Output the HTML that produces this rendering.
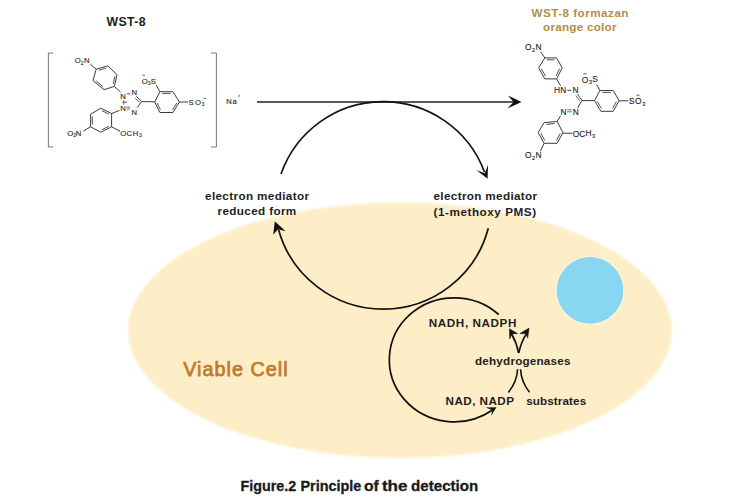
<!DOCTYPE html>
<html><head><meta charset="utf-8">
<style>
html,body{margin:0;padding:0;background:#fff;width:750px;height:500px;overflow:hidden}
svg{display:block}
text{font-family:"Liberation Sans",sans-serif}
.lbl{font-size:11.7px;font-weight:bold;fill:#1e1e1e}
.ch{font-family:"Liberation Sans",sans-serif;fill:#1e1e1e;stroke:#1e1e1e;stroke-width:0.12px}
</style></head><body>
<svg width="750" height="500" viewBox="0 0 750 500">
<!-- cell -->
<defs><filter id="bl" x="-5%" y="-5%" width="110%" height="110%"><feGaussianBlur stdDeviation="1.1"/></filter></defs>
<ellipse cx="400" cy="330.3" rx="271.7" ry="127.8" fill="#feeec7" filter="url(#bl)"/>
<circle cx="590" cy="290.4" r="34.4" fill="#eef7e6"/>
<circle cx="590" cy="290.4" r="32.8" fill="#88d6f2" stroke="#7fcbe8" stroke-width="0.8"/>

<!-- chem -->
<path d="M53.50 53.00 L48.40 53.00 L48.40 147.00 L53.50 147.00" fill="none" stroke="#6a6a6a" stroke-width="0.9"/>
<path d="M211.00 53.00 L216.40 53.00 L216.40 147.00 L211.00 147.00" fill="none" stroke="#6a6a6a" stroke-width="0.9"/>
<text x="74.84" y="63.42" class="ch" style="font-size:7.7px">O</text>
<text x="80.65" y="64.60" class="ch" style="font-size:5.0px">2</text>
<text x="83.97" y="63.00" class="ch" style="font-size:7.7px">N</text>
<path d="M90.40 64.20 L96.20 69.20" fill="none" stroke="#3c3c3c" stroke-width="1.0"/>
<path d="M96.20 69.20 L107.90 65.90 L117.00 74.70 L114.40 86.40 L104.00 89.70 L93.00 80.60 Z" fill="none" stroke="#3c3c3c" stroke-width="1.0" stroke-linejoin="round"/>
<path d="M98.84 70.22 L106.33 68.11" fill="none" stroke="#3c3c3c" stroke-width="0.9"/>
<path d="M114.89 76.36 L113.23 83.85" fill="none" stroke="#3c3c3c" stroke-width="0.9"/>
<path d="M103.18 86.82 L96.14 81.00" fill="none" stroke="#3c3c3c" stroke-width="0.9"/>
<path d="M114.40 86.40 L120.60 92.20" fill="none" stroke="#3c3c3c" stroke-width="1.0"/>
<text x="120.37" y="98.60" class="ch" style="font-size:7.7px">N</text>
<text x="131.47" y="95.30" class="ch" style="font-size:7.7px">N</text>
<path d="M126.70 93.80 L130.40 93.80" fill="none" stroke="#2e2e2e" stroke-width="0.8"/>
<path d="M136.30 96.40 L141.60 101.30" fill="none" stroke="#3c3c3c" stroke-width="1.0"/>
<path d="M135.20 98.20 L139.60 102.20" fill="none" stroke="#3c3c3c" stroke-width="0.8"/>
<path d="M141.40 101.80 L137.20 107.60" fill="none" stroke="#3c3c3c" stroke-width="1.0"/>
<text x="131.47" y="114.50" class="ch" style="font-size:7.7px">N</text>
<text x="120.37" y="110.90" class="ch" style="font-size:7.7px">N</text>
<path d="M126.40 107.20 L130.20 107.20" fill="none" stroke="#2e2e2e" stroke-width="0.7"/>
<path d="M126.80 109.00 L130.20 109.00" fill="none" stroke="#2e2e2e" stroke-width="0.7"/>
<path d="M122.20 102.20 L127.20 102.20" fill="none" stroke="#2e2e2e" stroke-width="0.8"/>
<path d="M123.80 100.00 L123.80 104.60" fill="none" stroke="#2e2e2e" stroke-width="0.6"/>
<path d="M141.40 101.60 L154.70 101.80" fill="none" stroke="#3c3c3c" stroke-width="1.0"/>
<path d="M154.70 102.00 L159.90 91.70 L172.90 91.70 L179.40 102.00 L172.90 112.50 L159.90 112.50 Z" fill="none" stroke="#3c3c3c" stroke-width="1.0" stroke-linejoin="round"/>
<path d="M162.28 93.40 L170.60 93.40" fill="none" stroke="#3c3c3c" stroke-width="0.9"/>
<path d="M176.74 103.08 L172.58 109.80" fill="none" stroke="#3c3c3c" stroke-width="0.9"/>
<path d="M160.45 109.78 L157.12 103.06" fill="none" stroke="#3c3c3c" stroke-width="0.9"/>
<path d="M159.90 91.70 L156.20 85.00" fill="none" stroke="#3c3c3c" stroke-width="1.0"/>
<text x="141.64" y="83.52" class="ch" style="font-size:7.7px">O</text>
<text x="147.71" y="85.05" class="ch" style="font-size:5.0px">3</text>
<text x="150.75" y="83.52" class="ch" style="font-size:7.7px">S</text>
<path d="M142.20 75.20 L145.00 75.20" fill="none" stroke="#2e2e2e" stroke-width="0.7"/>
<path d="M179.40 102.00 L188.00 102.00" fill="none" stroke="#3c3c3c" stroke-width="1.0"/>
<text x="188.45" y="104.92" class="ch" style="font-size:7.7px">S</text>
<text x="194.94" y="104.92" class="ch" style="font-size:7.7px">O</text>
<text x="201.61" y="106.45" class="ch" style="font-size:5.0px">3</text>
<path d="M203.60 98.40 L206.20 98.40" fill="none" stroke="#2e2e2e" stroke-width="0.7"/>
<path d="M119.40 110.40 L111.60 113.60" fill="none" stroke="#3c3c3c" stroke-width="1.0"/>
<path d="M111.60 113.60 L100.80 108.20 L90.60 114.20 L90.60 126.80 L100.80 132.20 L111.60 126.80 Z" fill="none" stroke="#3c3c3c" stroke-width="1.0" stroke-linejoin="round"/>
<path d="M108.83 114.12 L101.92 110.66" fill="none" stroke="#3c3c3c" stroke-width="0.9"/>
<path d="M92.30 116.44 L92.30 124.50" fill="none" stroke="#3c3c3c" stroke-width="0.9"/>
<path d="M101.91 129.75 L108.82 126.29" fill="none" stroke="#3c3c3c" stroke-width="0.9"/>
<path d="M90.60 126.80 L83.40 131.00" fill="none" stroke="#3c3c3c" stroke-width="1.0"/>
<text x="67.14" y="136.02" class="ch" style="font-size:7.7px">O</text>
<text x="73.25" y="137.30" class="ch" style="font-size:5.0px">2</text>
<text x="75.87" y="135.90" class="ch" style="font-size:7.7px">N</text>
<path d="M111.60 126.80 L120.00 131.20" fill="none" stroke="#3c3c3c" stroke-width="1.0"/>
<text x="120.34" y="135.82" class="ch" style="font-size:7.7px">O</text>
<text x="126.61" y="135.82" class="ch" style="font-size:7.7px">C</text>
<text x="132.67" y="135.70" class="ch" style="font-size:7.7px">H</text>
<text x="138.91" y="137.45" class="ch" style="font-size:5.0px">3</text>
<text x="226.28" y="103.80" class="ch" style="font-size:7.6px">N</text>
<text x="232.58" y="103.73" class="ch" style="font-size:7.6px">a</text>
<path d="M238.30 95.90 L239.90 95.90" fill="none" stroke="#555" stroke-width="0.6"/>
<path d="M239.10 94.60 L239.10 97.20" fill="none" stroke="#555" stroke-width="0.6"/>
<text x="524.90" y="50.32" class="ch" style="font-size:8.4px">O</text>
<text x="532.03" y="52.40" class="ch" style="font-size:5.4px">2</text>
<text x="535.41" y="50.00" class="ch" style="font-size:8.4px">N</text>
<path d="M540.50 51.60 L544.80 57.90" fill="none" stroke="#3c3c3c" stroke-width="1.0"/>
<path d="M544.80 57.90 L556.60 57.90 L562.20 67.80 L556.60 78.90 L544.80 78.90 L538.60 67.80 Z" fill="none" stroke="#3c3c3c" stroke-width="1.0" stroke-linejoin="round"/>
<path d="M546.91 59.80 L554.46 59.80" fill="none" stroke="#3c3c3c" stroke-width="0.9"/>
<path d="M559.55 68.84 L555.97 75.94" fill="none" stroke="#3c3c3c" stroke-width="0.9"/>
<path d="M545.33 75.95 L541.36 68.85" fill="none" stroke="#3c3c3c" stroke-width="0.9"/>
<path d="M556.60 78.90 L560.60 85.80" fill="none" stroke="#3c3c3c" stroke-width="1.0"/>
<text x="553.91" y="93.00" class="ch" style="font-size:8.4px">H</text>
<text x="560.31" y="93.00" class="ch" style="font-size:8.4px">N</text>
<path d="M567.30 90.30 L571.30 90.30" fill="none" stroke="#2e2e2e" stroke-width="0.9"/>
<text x="572.61" y="93.00" class="ch" style="font-size:8.4px">N</text>
<path d="M577.40 94.20 L582.00 100.40" fill="none" stroke="#3c3c3c" stroke-width="1.0"/>
<path d="M575.80 95.60 L579.80 100.80" fill="none" stroke="#3c3c3c" stroke-width="0.8"/>
<path d="M581.70 100.60 L594.50 100.60" fill="none" stroke="#3c3c3c" stroke-width="1.0"/>
<text x="581.70" y="82.62" class="ch" style="font-size:8.4px">O</text>
<text x="588.89" y="84.35" class="ch" style="font-size:5.4px">3</text>
<text x="592.32" y="82.42" class="ch" style="font-size:8.4px">S</text>
<path d="M583.40 73.80 L586.60 73.80" fill="none" stroke="#2e2e2e" stroke-width="0.8"/>
<path d="M594.50 100.60 L599.90 90.50 L613.20 90.50 L619.10 100.60 L613.20 111.30 L600.90 111.30 Z" fill="none" stroke="#3c3c3c" stroke-width="1.0" stroke-linejoin="round"/>
<path d="M602.34 92.40 L610.85 92.40" fill="none" stroke="#3c3c3c" stroke-width="0.9"/>
<path d="M616.37 101.61 L612.60 108.46" fill="none" stroke="#3c3c3c" stroke-width="0.9"/>
<path d="M601.40 108.44 L597.31 101.59" fill="none" stroke="#3c3c3c" stroke-width="0.9"/>
<path d="M599.90 90.50 L596.70 84.60" fill="none" stroke="#3c3c3c" stroke-width="1.0"/>
<path d="M619.10 100.80 L628.20 100.80" fill="none" stroke="#3c3c3c" stroke-width="1.0"/>
<text x="629.12" y="104.22" class="ch" style="font-size:8.4px">S</text>
<text x="635.10" y="104.22" class="ch" style="font-size:8.4px">O</text>
<text x="642.29" y="105.65" class="ch" style="font-size:5.4px">3</text>
<path d="M636.40 95.20 L639.60 95.20" fill="none" stroke="#2e2e2e" stroke-width="0.8"/>
<path d="M581.70 100.80 L577.60 108.20" fill="none" stroke="#3c3c3c" stroke-width="1.0"/>
<text x="560.51" y="114.90" class="ch" style="font-size:8.4px">N</text>
<text x="572.81" y="114.90" class="ch" style="font-size:8.4px">N</text>
<path d="M567.20 109.80 L571.70 109.80" fill="none" stroke="#2e2e2e" stroke-width="0.7"/>
<path d="M567.20 111.80 L571.70 111.80" fill="none" stroke="#2e2e2e" stroke-width="0.7"/>
<path d="M560.60 115.80 L557.10 121.50" fill="none" stroke="#3c3c3c" stroke-width="1.0"/>
<path d="M557.10 121.50 L544.10 122.60 L538.20 132.50 L544.10 143.30 L557.10 143.30 L562.90 132.50 Z" fill="none" stroke="#3c3c3c" stroke-width="1.0" stroke-linejoin="round"/>
<path d="M554.76 123.60 L546.44 124.30" fill="none" stroke="#3c3c3c" stroke-width="0.9"/>
<path d="M540.92 133.52 L544.70 140.43" fill="none" stroke="#3c3c3c" stroke-width="0.9"/>
<path d="M556.49 140.43 L560.20 133.51" fill="none" stroke="#3c3c3c" stroke-width="0.9"/>
<path d="M562.90 133.20 L572.50 133.20" fill="none" stroke="#3c3c3c" stroke-width="1.0"/>
<text x="572.80" y="136.52" class="ch" style="font-size:8.4px">O</text>
<text x="579.27" y="136.52" class="ch" style="font-size:8.4px">C</text>
<text x="585.61" y="136.40" class="ch" style="font-size:8.4px">H</text>
<text x="591.89" y="138.05" class="ch" style="font-size:5.4px">3</text>
<path d="M544.10 143.30 L540.40 151.20" fill="none" stroke="#3c3c3c" stroke-width="1.0"/>
<text x="524.90" y="158.02" class="ch" style="font-size:8.4px">O</text>
<text x="532.03" y="159.60" class="ch" style="font-size:5.4px">2</text>
<text x="535.61" y="157.60" class="ch" style="font-size:8.4px">N</text>

<!-- titles -->
<text x="106.5" y="26" class="lbl" style="font-size:12.3px" textLength="39" lengthAdjust="spacing">WST-8</text>
<text x="531.5" y="17" class="lbl" style="fill:#b68c46" textLength="97" lengthAdjust="spacing">WST-8 formazan</text>
<text x="543" y="31.2" class="lbl" style="fill:#b68c46" textLength="73.5" lengthAdjust="spacing">orange color</text>

<!-- big arrow -->
<line x1="257" y1="102" x2="514" y2="102" stroke="#222" stroke-width="1.6"/>
<path d="M521.5 102 L508 95.5 L513.5 102 L507.5 108.5 Z" fill="#111"/>

<!-- big circle arrows -->
<path d="M281 174 A108.2 108.2 0 0 1 484.5 172" fill="none" stroke="#111" stroke-width="1.7"/>
<path d="M487.6 178.8 L476.4 170 L484.8 173.2 L488 164.8 Z" fill="#111"/>
<path d="M488.3 228.3 A108.7 108.7 0 0 1 278.5 229.5" fill="none" stroke="#111" stroke-width="1.7"/>
<path d="M274.8 221.2 L273.2 234.8 L278 229.2 L285.6 231.2 Z" fill="#111"/>

<text x="205" y="199.5" class="lbl" textLength="104" lengthAdjust="spacing">electron mediator</text>
<text x="217.6" y="215" class="lbl" textLength="78.6" lengthAdjust="spacing">reduced form</text>
<text x="433.5" y="200" class="lbl" textLength="103.6" lengthAdjust="spacing">electron mediator</text>
<text x="433.5" y="215.5" class="lbl" textLength="102.6" lengthAdjust="spacing">(1-methoxy PMS)</text>

<!-- small circle -->
<path d="M498.7 314.5 A65 62 0 1 0 492.5 410" fill="none" stroke="#111" stroke-width="1.7"/>
<path d="M496.5 407.2 L485.8 407.5 L492.4 410.3 L491 415.9 Z" fill="#111"/>

<text x="428.8" y="327.2" class="lbl" textLength="87.6" lengthAdjust="spacing">NADH, NADPH</text>
<text x="475" y="365" class="lbl" textLength="95.5" lengthAdjust="spacing">dehydrogenases</text>
<text x="445.6" y="404.6" class="lbl" textLength="68.4" lengthAdjust="spacing">NAD, NADP</text>
<text x="526.2" y="404.6" class="lbl" textLength="60" lengthAdjust="spacing">substrates</text>

<!-- dehydrogenase arrows -->
<path d="M518.6 353 C517.5 347 514.5 339 511.4 333.5" fill="none" stroke="#111" stroke-width="1.6"/>
<path d="M518.8 353 C520 347 523 339 526.6 333.5" fill="none" stroke="#111" stroke-width="1.6"/>
<path d="M509.4 328.8 L509.7 338.9 L511.8 334 L517.6 333.5 Z" fill="#111" stroke="#111" stroke-width="0.5" stroke-linejoin="round"/>
<path d="M529.1 328.1 L519.8 333.5 L526.2 333.8 L527.7 338.2 Z" fill="#111" stroke="#111" stroke-width="0.5" stroke-linejoin="round"/>
<path d="M517.6 369.2 C517.2 377 513.5 386 508.3 392.6" fill="none" stroke="#111" stroke-width="1.6"/>
<path d="M520.5 369.2 C521 377 524.5 386 529.5 392.2" fill="none" stroke="#111" stroke-width="1.6"/>

<text x="183.2" y="375.7" style="font-size:19.8px;font-weight:normal;fill:#c27a2e;stroke:#c27a2e;stroke-width:0.75px" textLength="104.4" lengthAdjust="spacing">Viable Cell</text>

<g style="font-size:14px;font-weight:bold;fill:#1a1a1a;stroke:#1a1a1a;stroke-width:0.3px"><text x="240.5" y="490.8" textLength="55.6" lengthAdjust="spacingAndGlyphs">Figure.2</text><text x="300.5" y="490.8" textLength="60.8" lengthAdjust="spacingAndGlyphs">Principle</text><text x="363.90000000000003" y="490.8" textLength="14.8" lengthAdjust="spacingAndGlyphs">of</text><text x="381.90000000000003" y="490.8" textLength="25.6" lengthAdjust="spacingAndGlyphs">the</text><text x="411.1" y="490.8" textLength="67.1" lengthAdjust="spacingAndGlyphs">detection</text></g>
</svg>
</body></html>
